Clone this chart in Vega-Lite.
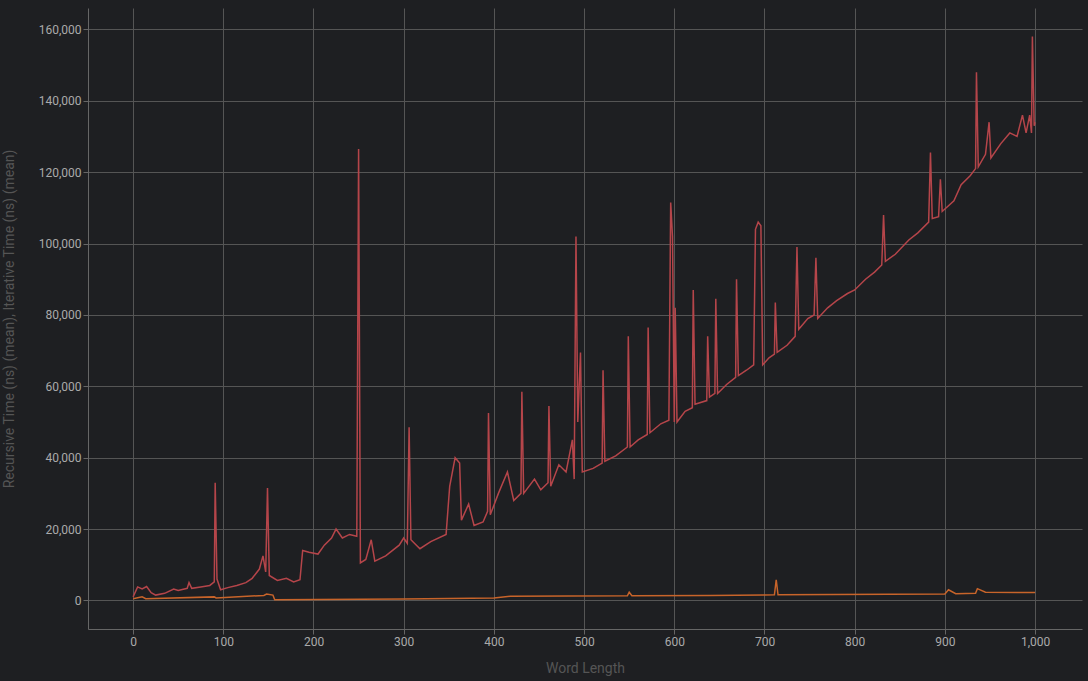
{
  "$schema": "https://vega.github.io/schema/vega-lite/v6.json",
  "width": 994,
  "height": 621,
  "padding": {"left": 88, "top": 8, "right": 6, "bottom": 52},
  "autosize": {"type": "none"},
  "background": "#1e1f22",
  "config": {
    "view": {"stroke": null},
    "axis": {"gridColor": "#555", "domainColor": "#666", "tickColor": "#666", "labelColor": "#aaa", "labelFont": "Roboto", "labelFontSize": 12, "labelOverlap": false, "titleColor": "#555", "titleFont": "Roboto", "titleFontSize": 14, "titleFontWeight": "normal"}
  },
  "layer": [
    {
      "data": {"values": [
        {"w":0,"t":1000},{"w":5,"t":3800},{"w":10,"t":3200},{"w":15,"t":3900},{"w":20,"t":2200},{"w":25,"t":1500},{"w":35,"t":2000},{"w":45,"t":3200},{"w":50,"t":2800},{"w":60,"t":3400},{"w":62,"t":5000},{"w":65,"t":3400},{"w":75,"t":3800},{"w":85,"t":4200},{"w":90,"t":5200},{"w":91,"t":33000},{"w":93,"t":6000},{"w":97,"t":3000},{"w":105,"t":3600},{"w":115,"t":4200},{"w":125,"t":5000},{"w":132,"t":6200},{"w":140,"t":8800},{"w":144,"t":12500},{"w":147,"t":8000},{"w":149,"t":31500},{"w":151,"t":7000},{"w":160,"t":5600},{"w":170,"t":6200},{"w":178,"t":5200},{"w":185,"t":5800},{"w":188,"t":14000},{"w":195,"t":13500},{"w":205,"t":13000},{"w":212,"t":15500},{"w":220,"t":17500},{"w":225,"t":20000},{"w":232,"t":17500},{"w":240,"t":18500},{"w":248,"t":18000},{"w":250,"t":126500},{"w":252,"t":10500},{"w":258,"t":11500},{"w":264,"t":17000},{"w":268,"t":11000},{"w":280,"t":12500},{"w":295,"t":15500},{"w":300,"t":17500},{"w":304,"t":16000},{"w":306,"t":48500},{"w":308,"t":17000},{"w":318,"t":14500},{"w":330,"t":16500},{"w":347,"t":18500},{"w":351,"t":32000},{"w":357,"t":40000},{"w":362,"t":38500},{"w":364,"t":22500},{"w":372,"t":27000},{"w":378,"t":21000},{"w":388,"t":22000},{"w":393,"t":25000},{"w":394,"t":52500},{"w":396,"t":24000},{"w":405,"t":30000},{"w":415,"t":36000},{"w":422,"t":28000},{"w":430,"t":30000},{"w":431,"t":58500},{"w":433,"t":30000},{"w":445,"t":34000},{"w":452,"t":31000},{"w":460,"t":33000},{"w":461,"t":54500},{"w":463,"t":32000},{"w":472,"t":38000},{"w":480,"t":36000},{"w":487,"t":45000},{"w":489,"t":34000},{"w":491,"t":102000},{"w":493,"t":50000},{"w":496,"t":69500},{"w":498,"t":36000},{"w":510,"t":37000},{"w":520,"t":38500},{"w":521,"t":64500},{"w":523,"t":39000},{"w":535,"t":40500},{"w":548,"t":43000},{"w":549,"t":74000},{"w":551,"t":43000},{"w":560,"t":45000},{"w":570,"t":46500},{"w":571,"t":76500},{"w":573,"t":47000},{"w":585,"t":49500},{"w":594,"t":50500},{"w":596,"t":111500},{"w":598,"t":102000},{"w":600,"t":50000},{"w":601,"t":82000},{"w":603,"t":50000},{"w":612,"t":53000},{"w":620,"t":54000},{"w":621,"t":87000},{"w":623,"t":55000},{"w":636,"t":56000},{"w":637,"t":74000},{"w":639,"t":57000},{"w":645,"t":58000},{"w":646,"t":84500},{"w":648,"t":58000},{"w":658,"t":60500},{"w":668,"t":62500},{"w":669,"t":90000},{"w":671,"t":63000},{"w":680,"t":64500},{"w":688,"t":66000},{"w":690,"t":104000},{"w":693,"t":106000},{"w":696,"t":105000},{"w":698,"t":66000},{"w":705,"t":68000},{"w":711,"t":69000},{"w":712,"t":83500},{"w":714,"t":69500},{"w":725,"t":71500},{"w":734,"t":74000},{"w":736,"t":99000},{"w":738,"t":76000},{"w":748,"t":79000},{"w":755,"t":80000},{"w":757,"t":96000},{"w":759,"t":79000},{"w":770,"t":82000},{"w":780,"t":84000},{"w":792,"t":86000},{"w":800,"t":87000},{"w":812,"t":90000},{"w":822,"t":92000},{"w":830,"t":94000},{"w":832,"t":108000},{"w":834,"t":95000},{"w":845,"t":97000},{"w":860,"t":101000},{"w":870,"t":103000},{"w":882,"t":106000},{"w":884,"t":125500},{"w":886,"t":107000},{"w":893,"t":107500},{"w":895,"t":118000},{"w":897,"t":109000},{"w":910,"t":112000},{"w":918,"t":116500},{"w":928,"t":119000},{"w":934,"t":121000},{"w":935,"t":148000},{"w":937,"t":121500},{"w":945,"t":125000},{"w":949,"t":134000},{"w":951,"t":124000},{"w":962,"t":128000},{"w":972,"t":131000},{"w":980,"t":130000},{"w":986,"t":136000},{"w":990,"t":131000},{"w":994,"t":136000},{"w":996,"t":131000},{"w":997,"t":158000},{"w":999,"t":133000},{"w":1000,"t":134000}
      ]},
      "mark": {"type": "line", "color": "#b5454a", "strokeWidth": 1.5},
      "encoding": {
        "x": {"field": "w", "type": "quantitative", "title": "Word Length", "scale": {"domain": [-50, 1052], "nice": false}, "axis": {"values": [0,100,200,300,400,500,600,700,800,900,1000], "titleY": 32}},
        "y": {"field": "t", "type": "quantitative", "title": "Recursive Time (ns) (mean), Iterative Time (ns) (mean)", "scale": {"domain": [-8000, 166000], "nice": false}, "axis": {"values": [0,10000,20000,30000,40000,50000,60000,70000,80000,90000,100000,110000,120000,130000,140000,150000,160000], "titleX": -72}}
      }
    },
    {
      "data": {"values": [
        {"w":0,"t":500},{"w":10,"t":1000},{"w":14,"t":500},{"w":90,"t":1000},{"w":92,"t":700},{"w":145,"t":1400},{"w":148,"t":1800},{"w":155,"t":1500},{"w":157,"t":200},{"w":300,"t":400},{"w":400,"t":700},{"w":418,"t":1200},{"w":548,"t":1300},{"w":550,"t":2300},{"w":553,"t":1300},{"w":640,"t":1400},{"w":700,"t":1500},{"w":711,"t":1600},{"w":713,"t":5800},{"w":715,"t":1600},{"w":900,"t":1800},{"w":904,"t":3000},{"w":912,"t":1900},{"w":934,"t":2000},{"w":936,"t":3300},{"w":945,"t":2300},{"w":1000,"t":2200}
      ]},
      "mark": {"type": "line", "color": "#c8642a", "strokeWidth": 1.5},
      "encoding": {
        "x": {"field": "w", "type": "quantitative"},
        "y": {"field": "t", "type": "quantitative"}
      }
    }
  ]
}
